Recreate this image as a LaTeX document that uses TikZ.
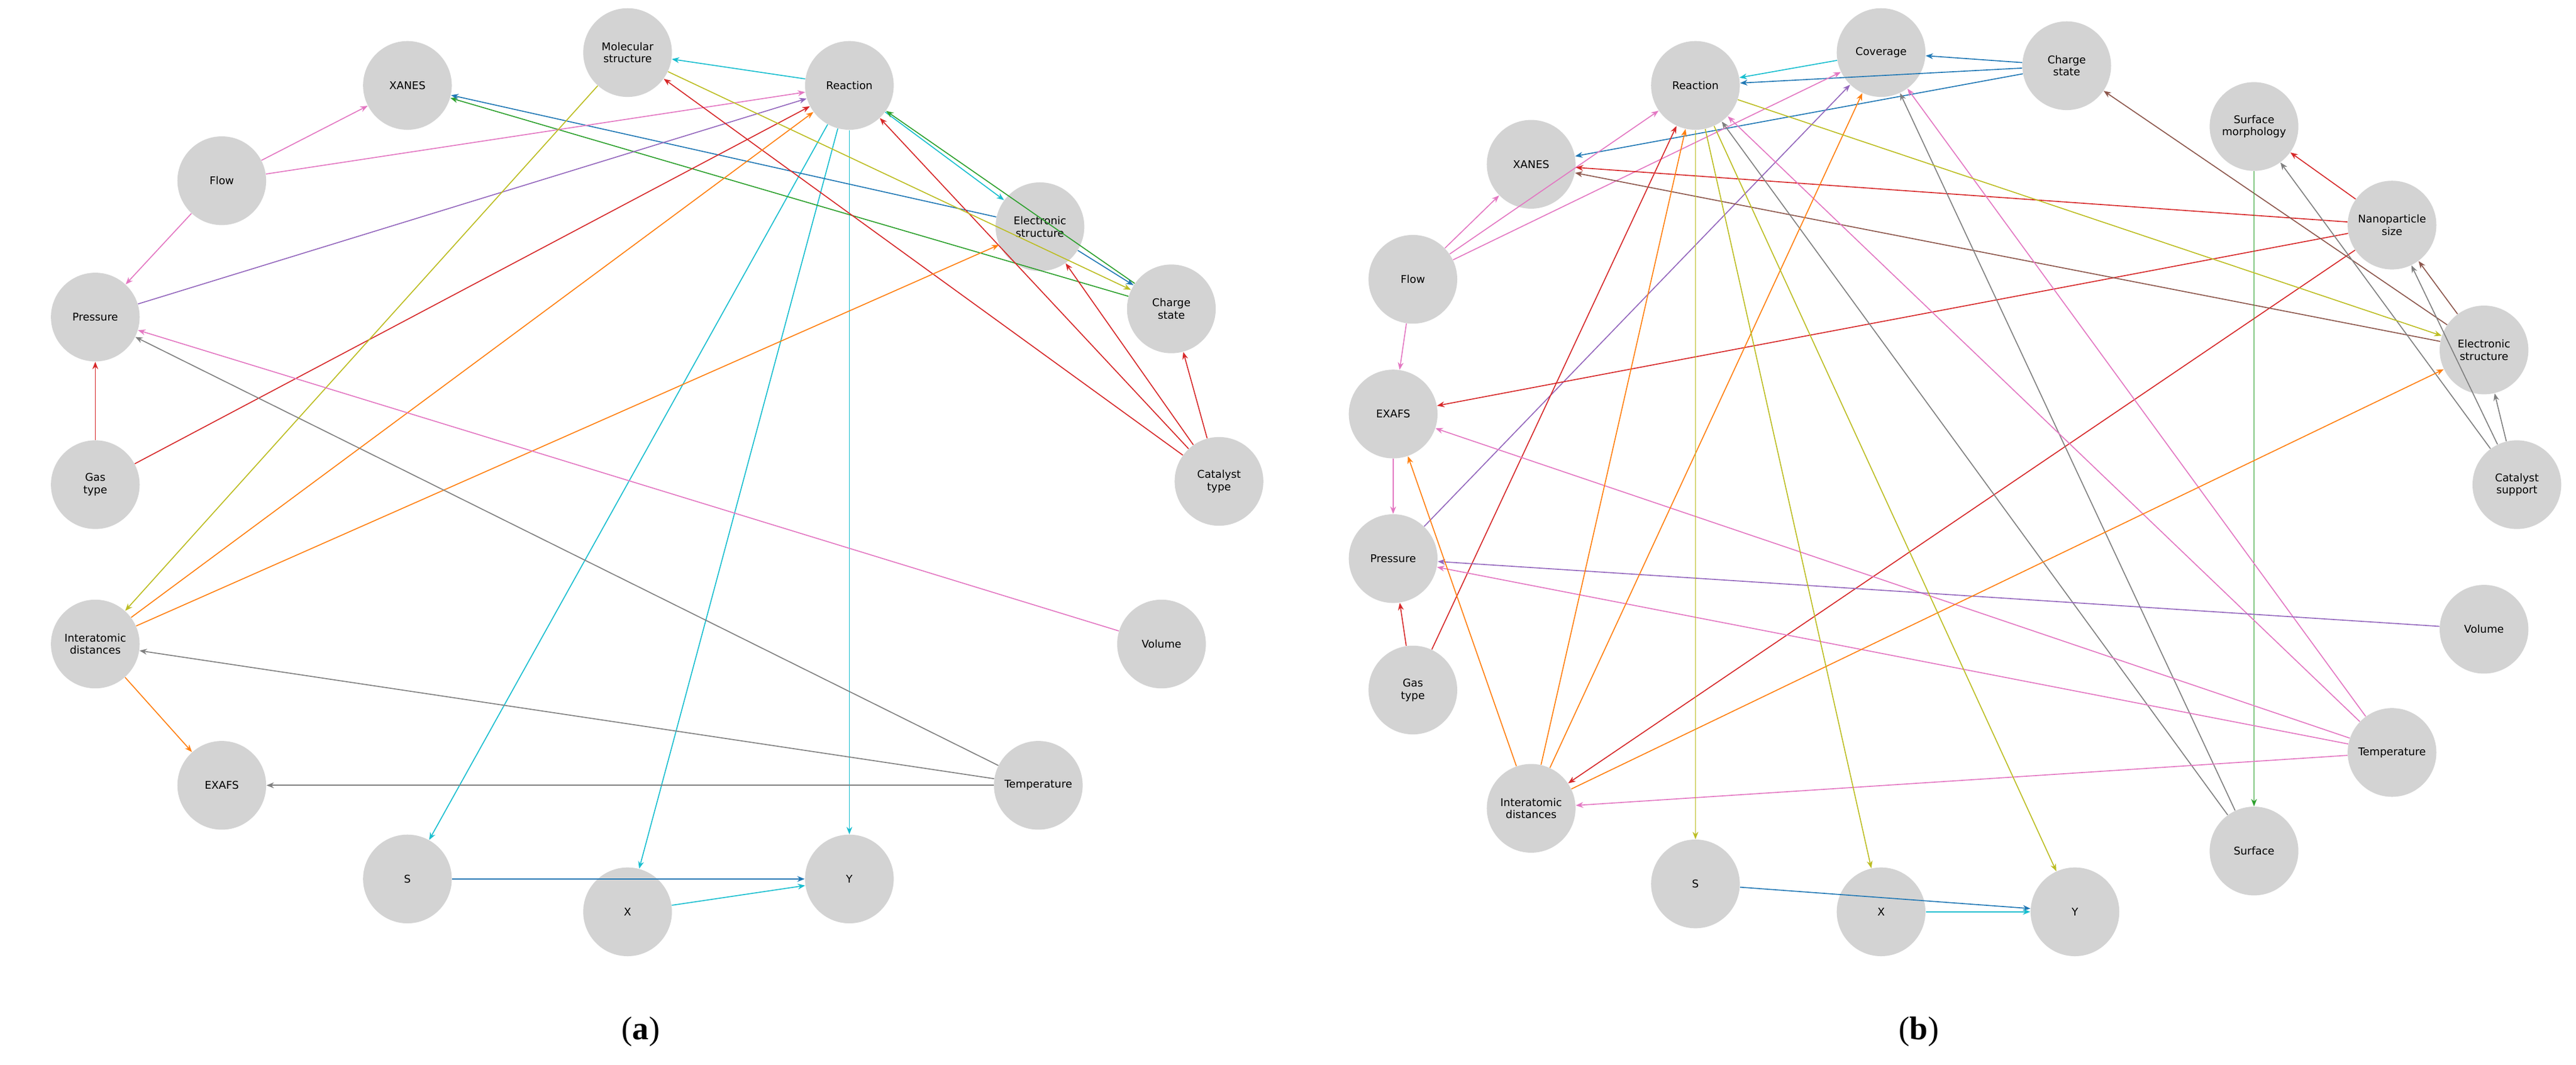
\documentclass[tikz,border=0pt]{standalone}
\usepackage{fontspec}
\setmainfont{DejaVu Sans}
\newfontfamily\capfont{Liberation Serif}
\usetikzlibrary{arrows.meta}
\definecolor{nd}{RGB}{211,211,211}
\definecolor{cC}{RGB}{23,190,207}
\definecolor{cB}{RGB}{31,119,180}
\definecolor{cG}{RGB}{44,160,44}
\definecolor{cR}{RGB}{214,39,40}
\definecolor{cP}{RGB}{227,119,194}
\definecolor{cV}{RGB}{148,103,189}
\definecolor{cO}{RGB}{255,127,14}
\definecolor{cY}{RGB}{188,189,34}
\definecolor{cA}{RGB}{127,127,127}
\definecolor{cN}{RGB}{140,86,75}
\begin{document}
\begin{tikzpicture}[x=1pt,y=-1pt,
  n/.style={circle,fill=nd,minimum size=54pt,inner sep=0pt,align=center,font=\fontsize{6.5}{7.5}\selectfont},
  e/.style={draw=#1,line width=0.6pt,-{Stealth[length=4.5pt,width=3.5pt]}},
  panellabel/.style={font=\capfont\fontsize{20}{22}\selectfont}]
\useasboundingbox (0,0) rectangle (1568,648);
% panel a
\node[n] (aM) at (382,32) {Molecular\\structure};
\node[n] (aR) at (517,52) {Reaction};
\node[n] (aX) at (248,52) {XANES};
\node[n] (aF) at (135,110) {Flow};
\node[n] (aE) at (633,138) {Electronic\\structure};
\node[n] (aP) at (58,193) {Pressure};
\node[n] (aC) at (713,188) {Charge\\state};
\node[n] (aG) at (58,295) {Gas\\type};
\node[n] (aK) at (742,293) {Catalyst\\type};
\node[n] (aI) at (58,392) {Interatomic\\distances};
\node[n] (aV) at (707,392) {Volume};
\node[n] (aA) at (135,478) {EXAFS};
\node[n] (aT) at (632,478) {Temperature};
\node[n] (aS) at (248,535) {S};
\node[n] (aXX) at (382,555) {X};
\node[n] (aY) at (517,535) {Y};
\draw[e=cC] (aR)--(aM); \draw[e=cC] (aR)--(aE);
\draw[e=cC] (aR)--(aS); \draw[e=cC] (aR)--(aXX); \draw[e=cC] (aR)--(aY);
\draw[e=cG] (aC)--(aR); \draw[e=cG] (aC)--(aX);
\draw[e=cB] (aE)--(aX); \draw[e=cB] (aE)--(aC);
\draw[e=cP] (aF)--(aX); \draw[e=cP] (aF)--(aP); \draw[e=cP] (aF)--(aR);
\draw[e=cV] (aP)--(aR);
\draw[e=cR] (aG)--(aP); \draw[e=cR] (aG)--(aR);
\draw[e=cR] (aK)--(aM); \draw[e=cR] (aK)--(aR); \draw[e=cR] (aK)--(aE); \draw[e=cR] (aK)--(aC);
\draw[e=cY] (aM)--(aC); \draw[e=cY] (aM)--(aI);
\draw[e=cO] (aI)--(aR); \draw[e=cO] (aI)--(aE); \draw[e=cO] (aI)--(aA);
\draw[e=cP] (aV)--(aP);
\draw[e=cA] (aT)--(aP); \draw[e=cA] (aT)--(aI); \draw[e=cA] (aT)--(aA);
\draw[e=cB] (aS)--(aY); \draw[e=cC] (aXX)--(aY);
\node[panellabel] (la) at (390,628) {(\textbf{a})};
% panel b
\node[n] (bR) at (1032,52) {Reaction};
\node[n] (bCo) at (1145,32) {Coverage};
\node[n] (bC) at (1258,40) {Charge\\state};
\node[n] (bSM) at (1372,77) {Surface\\morphology};
\node[n] (bX) at (932,100) {XANES};
\node[n] (bN) at (1456,137) {Nanoparticle\\size};
\node[n] (bF) at (860,170) {Flow};
\node[n] (bE) at (1512,213) {Electronic\\structure};
\node[n] (bA) at (848,252) {EXAFS};
\node[n] (bK) at (1532,295) {Catalyst\\support};
\node[n] (bP) at (848,340) {Pressure};
\node[n] (bV) at (1512,383) {Volume};
\node[n] (bG) at (860,420) {Gas\\type};
\node[n] (bT) at (1456,458) {Temperature};
\node[n] (bI) at (932,492) {Interatomic\\distances};
\node[n] (bSu) at (1372,518) {Surface};
\node[n] (bS) at (1032,538) {S};
\node[n] (bXX) at (1145,555) {X};
\node[n] (bY) at (1263,555) {Y};
\draw[e=cC] (bCo)--(bR);
\draw[e=cB] (bC)--(bCo); \draw[e=cB] (bC)--(bR); \draw[e=cB] (bC)--(bX);
\draw[e=cP] (bF)--(bX); \draw[e=cP] (bF)--(bR); \draw[e=cP] (bF)--(bCo); \draw[e=cP] (bF)--(bA);
\draw[e=cP] (bA)--(bP);
\draw[e=cV] (bP)--(bCo);
\draw[e=cR] (bG)--(bP); \draw[e=cR] (bG)--(bR);
\draw[e=cR] (bN)--(bSM); \draw[e=cR] (bN)--(bX); \draw[e=cR] (bN)--(bA); \draw[e=cR] (bN)--(bI);
\draw[e=cN] (bE)--(bN); \draw[e=cN] (bE)--(bX); \draw[e=cN] (bE)--(bC);
\draw[e=cA] (bK)--(bE); \draw[e=cA] (bK)--(bN); \draw[e=cA] (bK)--(bSM);
\draw[e=cG] (bSM)--(bSu);
\draw[e=cA] (bSu)--(bCo); \draw[e=cA] (bSu)--(bR);
\draw[e=cP] (bT)--(bR); \draw[e=cP] (bT)--(bCo); \draw[e=cP] (bT)--(bA); \draw[e=cP] (bT)--(bP); \draw[e=cP] (bT)--(bI);
\draw[e=cV] (bV)--(bP);
\draw[e=cO] (bI)--(bR); \draw[e=cO] (bI)--(bCo); \draw[e=cO] (bI)--(bE); \draw[e=cO] (bI)--(bA);
\draw[e=cY] (bR)--(bS); \draw[e=cY] (bR)--(bXX); \draw[e=cY] (bR)--(bY); \draw[e=cY] (bR)--(bE);
\draw[e=cB] (bS)--(bY); \draw[e=cC] (bXX)--(bY);
\node[panellabel] (lb) at (1168,628) {(\textbf{b})};
\end{tikzpicture}
\end{document}
